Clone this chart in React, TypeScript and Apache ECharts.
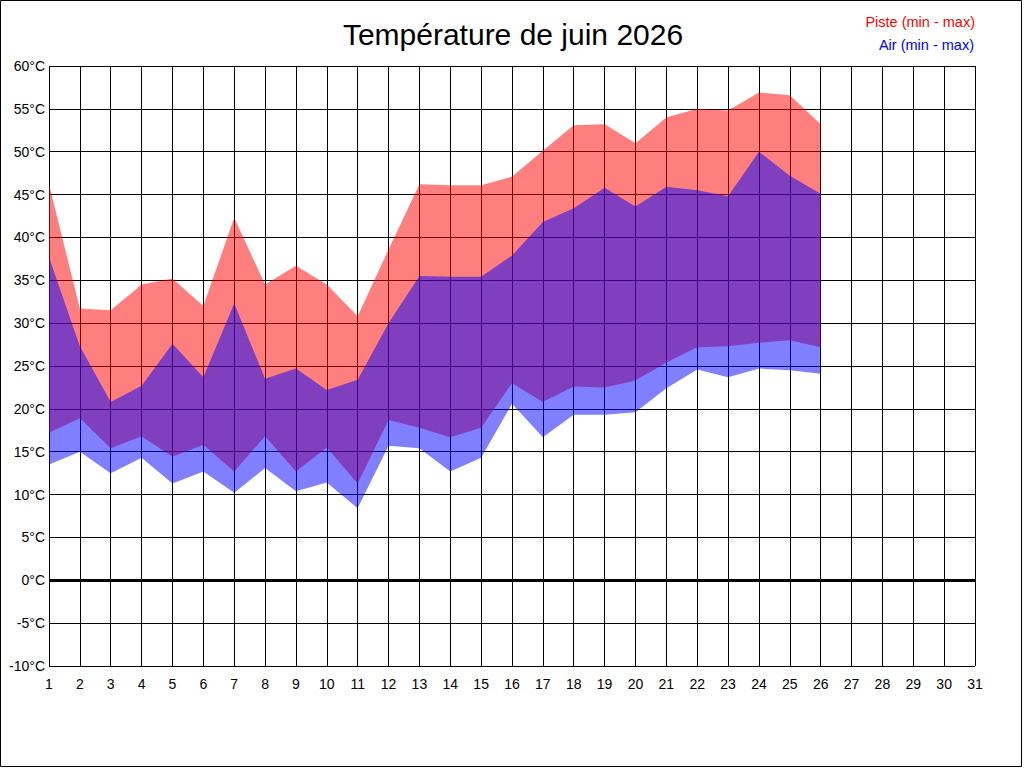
import React, { useEffect, useRef } from "react";
import * as echarts from "echarts";

const days = [
  "1", "2", "3", "4", "5", "6", "7", "8", "9", "10",
  "11", "12", "13", "14", "15", "16", "17", "18", "19", "20",
  "21", "22", "23", "24", "25", "26", "27", "28", "29", "30", "31",
];

// Piste (track) temperature, min and max, °C
const pisteMin = [
  17.2, 18.9, 15.4, 16.8, 14.4, 15.8, 12.7, 16.8, 12.7, 15.5,
  11.3, 18.7, 17.8, 16.7, 17.8, 23.0, 20.8, 22.6, 22.5, 23.3,
  25.4, 27.2, 27.3, 27.7, 28.0, 27.2,
];
const pisteMax = [
  46.2, 31.7, 31.5, 34.5, 35.2, 32.0, 42.3, 34.5, 36.7, 34.5,
  30.8, 38.6, 46.2, 46.1, 46.1, 47.1, 50.1, 53.1, 53.2, 51.0,
  54.0, 55.0, 54.8, 56.9, 56.6, 53.2,
];

// Air temperature, min and max, °C
const airMin = [
  13.5, 15.0, 12.5, 14.3, 11.3, 12.7, 10.2, 13.1, 10.4, 11.4,
  8.4, 15.7, 15.4, 12.7, 14.3, 20.6, 16.7, 19.3, 19.3, 19.6,
  22.4, 24.6, 23.7, 24.7, 24.5, 24.1,
];
const airMax = [
  37.7, 27.3, 20.8, 22.7, 27.6, 23.7, 32.3, 23.5, 24.7, 22.2,
  23.4, 30.0, 35.5, 35.4, 35.4, 37.9, 41.8, 43.4, 45.8, 43.6,
  45.9, 45.5, 44.8, 50.0, 47.2, 45.1,
];

const titleText = "Température de juin 2026";
const legendPiste = "Piste (min - max)";
const legendAir = "Air (min - max)";

const FONT = "'Liberation Sans', Arial, sans-serif";

export default function App() {
  const ref = useRef<HTMLDivElement>(null);

  useEffect(() => {
    if (!ref.current) return;
    const chart = echarts.init(ref.current, undefined, { renderer: "svg" });

    const pisteRange = pisteMax.map((v, i) => +(v - pisteMin[i]).toFixed(2));
    const airRange = airMax.map((v, i) => +(v - airMin[i]).toFixed(2));

    const hidden = {
      type: "line" as const,
      symbol: "none",
      silent: true,
      lineStyle: { width: 0, opacity: 0 },
      emphasis: { disabled: true },
    };

    chart.setOption({
      animation: false,
      backgroundColor: "#ffffff",
      grid: { left: 49, right: 49, top: 66, bottom: 102, containLabel: false },
      xAxis: {
        type: "category",
        data: days,
        boundaryGap: false,
        axisLine: { show: false },
        axisTick: { show: false },
        axisLabel: {
          interval: 0,
          margin: 11,
          color: "#000",
          fontSize: 14,
          fontFamily: FONT,
        },
        splitLine: {
          show: true,
          interval: 0,
          lineStyle: { color: "#000", width: 1 },
        },
      },
      yAxis: {
        type: "value",
        min: -10,
        max: 60,
        interval: 5,
        axisLine: { show: false },
        axisTick: { show: false },
        axisLabel: {
          formatter: "{value}°C",
          margin: 4,
          color: "#000",
          fontSize: 14,
          fontFamily: FONT,
        },
        splitLine: { show: true, lineStyle: { color: "#000", width: 1 } },
      },
      series: [
        {
          ...hidden,
          name: "pisteBase",
          stack: "piste",
          data: pisteMin,
          markLine: {
            silent: true,
            symbol: ["none", "none"],
            label: { show: false },
            lineStyle: { color: "#000", width: 3, type: "solid" },
            data: [{ yAxis: 0 }],
          },
        },
        {
          ...hidden,
          name: "Piste",
          stack: "piste",
          data: pisteRange,
          areaStyle: { color: "rgba(255,0,0,0.5)", opacity: 1 },
        },
        {
          ...hidden,
          name: "airBase",
          stack: "air",
          data: airMin,
        },
        {
          ...hidden,
          name: "Air",
          stack: "air",
          data: airRange,
          areaStyle: { color: "rgba(0,0,255,0.5)", opacity: 1 },
        },
      ],
      graphic: [
        {
          type: "rect",
          shape: { x: 0.5, y: 0.5, width: 1021, height: 766 },
          style: { fill: "none", stroke: "#000", lineWidth: 1 },
          silent: true,
        },
        {
          type: "text",
          x: 513,
          y: 34.5,
          style: {
            text: titleText,
            fill: "#000",
            font: `30px ${FONT}`,
            textAlign: "center",
            textVerticalAlign: "middle",
          },
        },
        {
          type: "text",
          x: 975,
          y: 22,
          style: {
            text: legendPiste,
            fill: "#ff0000",
            font: `14.5px ${FONT}`,
            textAlign: "right",
            textVerticalAlign: "middle",
          },
        },
        {
          type: "text",
          x: 974,
          y: 44.5,
          style: {
            text: legendAir,
            fill: "#0000ff",
            font: `14.5px ${FONT}`,
            textAlign: "right",
            textVerticalAlign: "middle",
          },
        },
      ],
    });

    return () => chart.dispose();
  }, []);

  return (
    <div
      ref={ref}
      style={{ position: "fixed", left: 0, top: 0, width: 1024, height: 768, background: "#fff" }}
    />
  );
}
